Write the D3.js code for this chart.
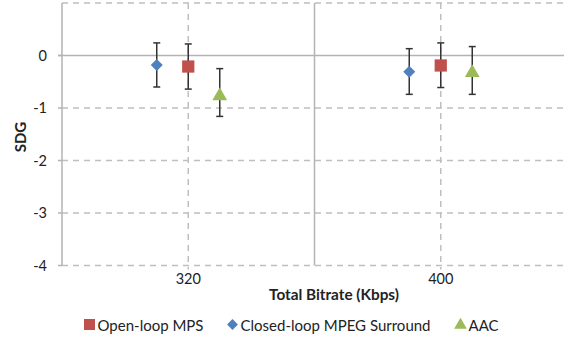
<html>
<head>
<meta charset="UTF-8">
<title>SDG</title>
<style>
  body { margin: 0; background: #fff; }
  text { font-family: Lato, "Open Sans", sans-serif; fill: #222; }
</style>
</head>
<body>
<script src="https://d3js.org/d3.v7.min.js"></script>
<script>
    let categories = ["320", "400"]
    let series = ["Open-loop MPS", "Closed-loop MPEG Surround", "AAC"]
    let seriesOrder = ["Closed-loop MPEG Surround", "Open-loop MPS", "AAC"]
    // mean, upper, lower per category
    let openMean = [-0.21, -0.19]
    let openHi = [0.22, 0.24]
    let openLo = [-0.64, -0.61]
    let closedMean = [-0.18, -0.31]
    let closedHi = [0.24, 0.13]
    let closedLo = [-0.60, -0.74]
    let aacMean = [-0.74, -0.30]
    let aacHi = [-0.25, 0.17]
    let aacLo = [-1.16, -0.74]
    let yTicks = [1, 0, -1, -2, -3, -4]
    let yLabels = [0, -1, -2, -3, -4]

    let colors = {"Open-loop MPS": "#C0504D", "Closed-loop MPEG Surround": "#4F81BD", "AAC": "#9BBB59"}
    let shapes = {"Open-loop MPS": d3.symbolSquare, "Closed-loop MPEG Surround": d3.symbolSquare, "AAC": d3.symbolTriangle}
    let rot = {"Open-loop MPS": 0, "Closed-loop MPEG Surround": 45, "AAC": 0}

    let rows = []
    categories.forEach((c, i) => {
        rows.push({cat: c, s: "Open-loop MPS", m: openMean[i], hi: openHi[i], lo: openLo[i]})
        rows.push({cat: c, s: "Closed-loop MPEG Surround", m: closedMean[i], hi: closedHi[i], lo: closedLo[i]})
        rows.push({cat: c, s: "AAC", m: aacMean[i], hi: aacHi[i], lo: aacLo[i]})
    })

    let W = 564, H = 343
    let plotL = 62, plotR = 567, plotT = 3, plotB = 265.5

    let svg = d3.select("body").append("svg").attr("width", W).attr("height", H)

    let x = d3.scaleBand().domain(categories).range([plotL, plotR])
    let y = d3.scaleLinear().domain([-4, 1]).range([plotB, plotT])
    let off = d3.scalePoint().domain(seriesOrder).range([-31.5, 31.5])

    let grid = svg.append("g")
    // horizontal dashed gridlines
    grid.selectAll("line.h").data(yTicks.filter(d => d !== 0)).enter().append("line")
        .attr("x1", plotL).attr("x2", plotR)
        .attr("y1", d => y(d)).attr("y2", d => y(d))
        .attr("stroke", "#BFBFBF").attr("stroke-width", 1.5).attr("stroke-dasharray", "6,5")
    // vertical dashed at category centers
    grid.selectAll("line.v").data(categories).enter().append("line")
        .attr("x1", d => x(d) + x.bandwidth() / 2).attr("x2", d => x(d) + x.bandwidth() / 2)
        .attr("y1", plotT).attr("y2", plotB + 4)
        .attr("stroke", "#BFBFBF").attr("stroke-width", 1.5).attr("stroke-dasharray", "6,5")
    // solid category boundaries
    grid.selectAll("line.b").data(categories).enter().append("line")
        .attr("x1", d => x(d)).attr("x2", d => x(d))
        .attr("y1", plotT).attr("y2", plotB)
        .attr("stroke", "#B3B3B3").attr("stroke-width", 1.5)
    // zero axis line
    grid.append("line")
        .attr("x1", plotL - 4).attr("x2", plotR)
        .attr("y1", y(0)).attr("y2", y(0))
        .attr("stroke", "#B3B3B3").attr("stroke-width", 1.5)
    // y tick marks
    grid.selectAll("line.t").data(yLabels).enter().append("line")
        .attr("x1", plotL - 4).attr("x2", plotL)
        .attr("y1", d => y(d)).attr("y2", d => y(d))
        .attr("stroke", "#B3B3B3").attr("stroke-width", 1.5)

    svg.append("g").selectAll("text").data(yLabels).enter().append("text")
        .attr("x", 47).attr("y", d => y(d) + 5)
        .attr("text-anchor", "end").attr("font-size", 14.5)
        .text(d => d)

    svg.append("g").selectAll("text").data(categories).enter().append("text")
        .attr("x", d => x(d) + x.bandwidth() / 2).attr("y", 284)
        .attr("text-anchor", "middle").attr("font-size", 14.5)
        .text(d => d)

    svg.append("text").attr("transform", "translate(26,137) rotate(-90)")
        .attr("text-anchor", "middle").attr("font-size", 15).attr("font-weight", "bold")
        .text("SDG")

    svg.append("text").attr("x", 334).attr("y", 300)
        .attr("text-anchor", "middle").attr("font-size", 15.3).attr("font-weight", "bold")
        .text("Total Bitrate (Kbps)")

    // error bars
    let eb = svg.append("g").selectAll("g").data(rows).enter().append("g")
        .attr("transform", d => "translate(" + (x(d.cat) + x.bandwidth() / 2 + off(d.s)) + ",0)")
    eb.append("line").attr("y1", d => y(d.hi)).attr("y2", d => y(d.lo))
        .attr("stroke", "#333").attr("stroke-width", 1.5)
    eb.append("line").attr("x1", -3.5).attr("x2", 3.5).attr("y1", d => y(d.hi)).attr("y2", d => y(d.hi))
        .attr("stroke", "#333").attr("stroke-width", 1.5)
    eb.append("line").attr("x1", -3.5).attr("x2", 3.5).attr("y1", d => y(d.lo)).attr("y2", d => y(d.lo))
        .attr("stroke", "#333").attr("stroke-width", 1.5)

    let sizes = {"Open-loop MPS": 150, "Closed-loop MPEG Surround": 72, "AAC": 95}
    svg.append("g").selectAll("path").data(rows).enter().append("path")
        .attr("transform", d => "translate(" + (x(d.cat) + x.bandwidth() / 2 + off(d.s)) + "," + (y(d.m) + (d.s === "AAC" ? 1.5 : 0)) + ") rotate(" + rot[d.s] + ")")
        .attr("d", d => d3.symbol().type(shapes[d.s]).size(sizes[d.s])())
        .attr("fill", d => colors[d.s])

    // legend
    let legendX = [84, 227, 455]
    let legendSize = {"Open-loop MPS": 121, "Closed-loop MPEG Surround": 58, "AAC": 70}
    let lg = svg.append("g").selectAll("g").data(series).enter().append("g")
        .attr("transform", (d, i) => "translate(" + legendX[i] + ",325)")
    lg.append("path")
        .attr("transform", d => "translate(5.5," + (d === "AAC" ? 0 : -0.5) + ") rotate(" + rot[d] + ")")
        .attr("d", d => d3.symbol().type(shapes[d]).size(legendSize[d])())
        .attr("fill", d => colors[d])
    lg.append("text").attr("x", 13.5).attr("y", 5.5)
        .attr("font-size", 15).text(d => d)
</script>
</body>
</html>
